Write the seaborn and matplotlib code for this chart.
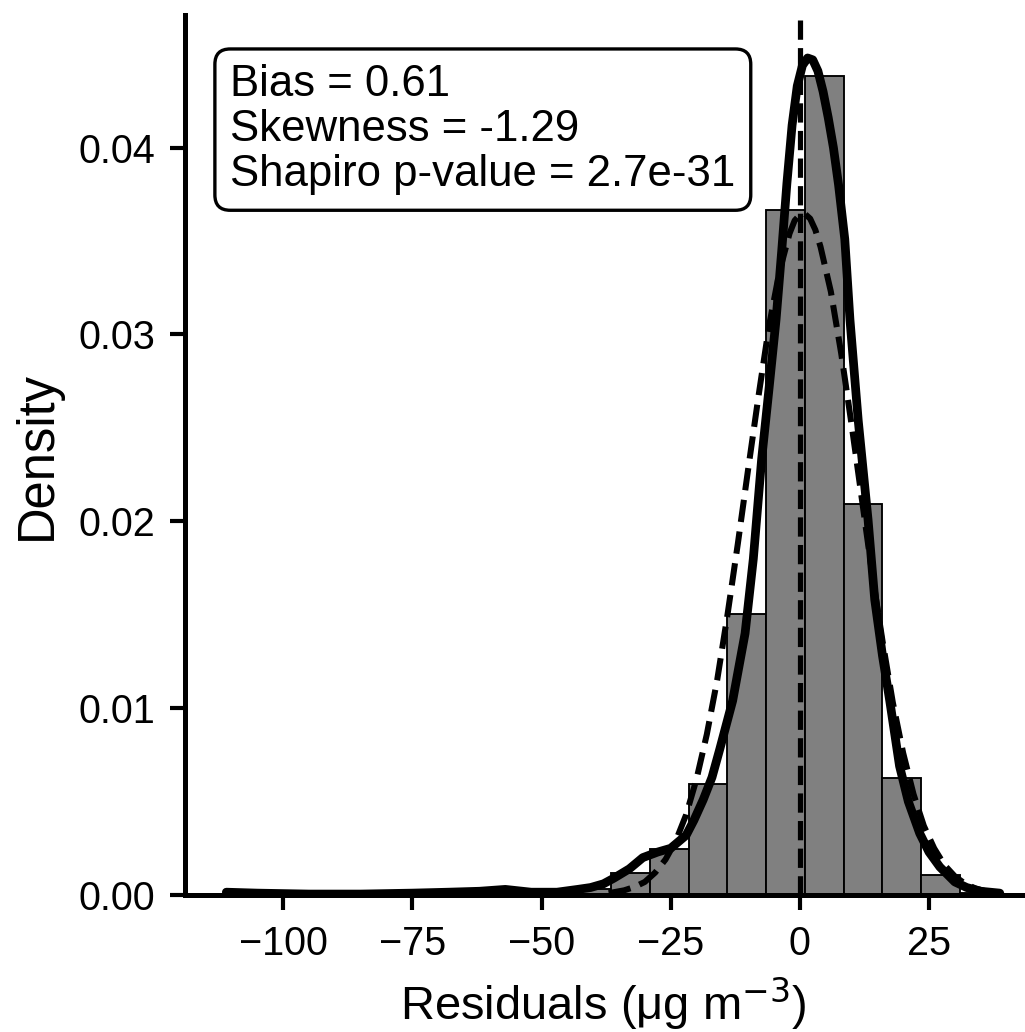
import numpy as np
import pandas as pd
import matplotlib
matplotlib.use('Agg')
import matplotlib.pyplot as plt
import seaborn as sns

# histogram of residuals (20 bins, density)
bin_edges = [-111.5, -104.0, -96.5, -89.0, -81.5, -74.0, -66.5, -59.0, -51.5, -44.0,
             -36.5, -29.0, -21.5, -14.0, -6.5, 1.0, 8.5, 16.0, 23.5, 31.0, 38.5]
bin_density = [0.0001, 0.0, 0.0, 0.0, 0.0, 0.0001, 0.0001, 0.0001, 0.0001, 0.0003,
               0.00119, 0.00245, 0.00596, 0.01505, 0.03665, 0.04382, 0.02092, 0.00628, 0.00105, 0.0001]

# KDE curve
kde_x = [-111, -105, -95, -85, -75, -68, -62, -57, -52, -47, -43, -40.5, -38, -36, -33, -30.4,
         -27.5, -25, -22, -20.5, -18.7, -17, -15.5, -13, -10.6, -9, -7.4, -6, -4.6, -3.5, -2.5,
         -1.5, -0.5, 0.5, 1.5, 2.5, 3.5, 4.5, 5.5, 6.5, 7.5, 8.7, 9.7, 11.3, 13.2, 14.5, 16,
         17.4, 19.3, 21, 23.2, 25, 27.1, 30, 32.3, 35, 38.7]
kde_y = [0.00015, 0.0001, 0.00005, 0.00005, 0.0001, 0.00015, 0.0002, 0.0003, 0.00015, 0.00015,
         0.0003, 0.0004, 0.0006, 0.0009, 0.0014, 0.0020, 0.0023, 0.0025, 0.0032, 0.0040,
         0.0051, 0.0063, 0.0078, 0.0104, 0.0140, 0.0180, 0.0233, 0.0270, 0.0308, 0.0345,
         0.0381, 0.0412, 0.0433, 0.0444, 0.0448, 0.0447, 0.0441, 0.0430, 0.0416, 0.0400,
         0.0380, 0.0351, 0.0308, 0.0254, 0.0201, 0.0158, 0.0128, 0.0104, 0.0069, 0.0050,
         0.0033, 0.0023, 0.0015, 0.0007, 0.0004, 0.0002, 0.0001]

# fitted normal curve
norm_x = [-37, -34, -32, -30, -28, -26, -24, -22, -20, -18, -16, -14, -12, -10, -8, -6,
          -4, -2, -1, 0, 1, 2, 3, 4, 6, 8, 10, 12, 14, 16, 18, 20, 22, 24, 26, 28, 30, 32,
          34, 36, 38]
norm_y = [0.0001, 0.00025, 0.00043, 0.0007, 0.0012, 0.0019, 0.0029, 0.0043, 0.0062, 0.0086,
          0.0115, 0.0150, 0.0188, 0.0228, 0.0267, 0.0304, 0.0333, 0.0354, 0.0361, 0.0364,
          0.03645, 0.0362, 0.0356, 0.0347, 0.0323, 0.0290, 0.0252, 0.0212, 0.0172, 0.0136,
          0.0103, 0.0076, 0.0054, 0.0037, 0.0025, 0.0016, 0.0010, 0.0006, 0.00035, 0.0002,
          0.0001]

stats_text = "Bias = 0.61\nSkewness = -1.29\nShapiro p-value = 2.7e-31"

sns.set_style('ticks', {'axes.edgecolor': 'black', 'xtick.color': 'black',
                        'ytick.color': 'black', 'text.color': 'black',
                        'axes.labelcolor': 'black'})
plt.rcParams['font.family'] = ['Liberation Sans', 'DejaVu Sans']
plt.rcParams['axes.linewidth'] = 1.2

centers = [(bin_edges[i] + bin_edges[i + 1]) / 2 for i in range(len(bin_density))]
hist_df = pd.DataFrame({'resid': centers, 'dens': bin_density})

fig = plt.figure(figsize=(1025 / 300, 1032 / 300), dpi=300)
ax = fig.add_axes([185 / 1025, 137 / 1032, 837 / 1025, 880 / 1032])

sns.histplot(data=hist_df, x='resid', weights='dens', bins=bin_edges, stat='count',
             color='#808080', edgecolor='black', linewidth=0.45, alpha=1, ax=ax)
sns.lineplot(x=kde_x, y=kde_y, color='black', lw=2.1, ax=ax,
             solid_joinstyle='round', solid_capstyle='round')
sns.lineplot(x=norm_x, y=norm_y, color='black', lw=1.45, linestyle='--', ax=ax)
ax.axvline(0, color='black', lw=1.25, linestyle='--')

ax.set_xlim(-119.0, 43.0)
ax.set_ylim(0, 0.0471)
ax.set_xticks([-100, -75, -50, -25, 0, 25])
ax.set_yticks([0.0, 0.01, 0.02, 0.03, 0.04])
ax.set_yticklabels(['0.00', '0.01', '0.02', '0.03', '0.04'])
ax.tick_params(labelsize=9.5, width=1.0, length=3.6, colors='black')
ax.set_xlabel('Residuals (μg m$^{-3}$)', fontsize=11.3, labelpad=3)
ax.set_ylabel('Density', fontsize=12.2)
sns.despine(ax=ax)

ax.text(0.054, 0.944, stats_text, transform=ax.transAxes, fontsize=10.5, va='top', ha='left',
        linespacing=1.12, color='black',
        bbox=dict(boxstyle='round,pad=0.35', facecolor='white', edgecolor='black', linewidth=0.8))

fig.savefig('out.png', dpi=300)
